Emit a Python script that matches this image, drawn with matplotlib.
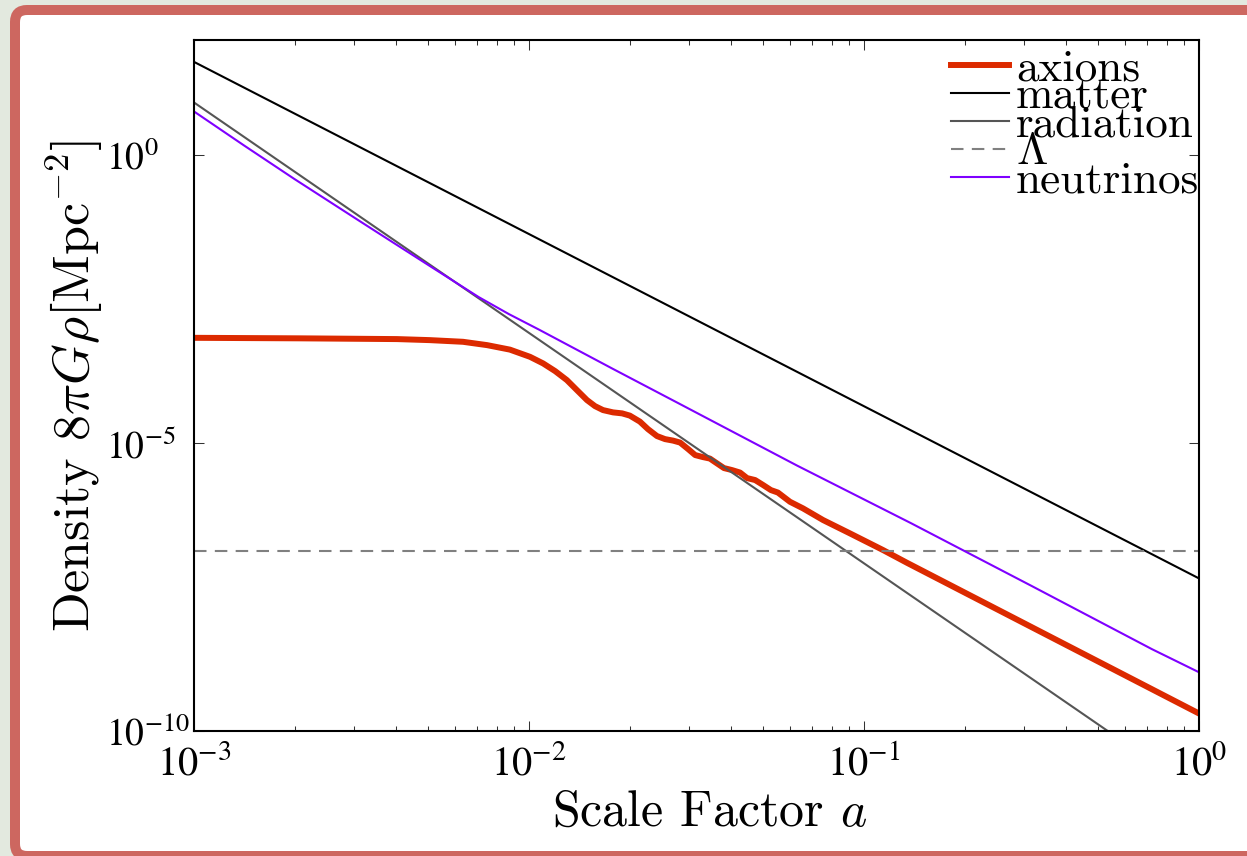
import matplotlib
matplotlib.use('Agg')
import matplotlib.pyplot as plt
import numpy as np
from matplotlib.patches import FancyBboxPatch
from matplotlib.transforms import IdentityTransform
from matplotlib.ticker import FixedLocator, NullLocator, FuncFormatter, LogLocator

# values, stored as log10(a) and log10(8 pi G rho)
axion_loga = [-3.000, -2.684, -2.394, -2.296, -2.197, -2.125, -2.057, -1.997,
              -1.958, -1.922, -1.887, -1.857, -1.827, -1.803, -1.779, -1.749,
              -1.722, -1.699, -1.669, -1.645, -1.618, -1.594, -1.570, -1.549,
              -1.525, -1.504, -1.481, -1.460, -1.439, -1.418, -1.394, -1.370,
              -1.349, -1.325, -1.301, -1.278, -1.257, -1.221, -1.182, -1.122,
              -1.042, -0.943, -0.872, 0.000]
axion_logrho = [-3.172, -3.181, -3.194, -3.212, -3.241, -3.299, -3.377, -3.502,
                -3.616, -3.750, -3.906, -4.080, -4.253, -4.358, -4.427, -4.467,
                -4.484, -4.523, -4.627, -4.757, -4.878, -4.931, -4.957, -4.991,
                -5.104, -5.208, -5.243, -5.269, -5.352, -5.434, -5.469, -5.512,
                -5.608, -5.642, -5.729, -5.816, -5.859, -6.019, -6.134, -6.337,
                -6.568, -6.858, -7.078, -9.696]

matter_loga = [-3.0, 0.0]
matter_logrho = [1.62, -7.35]

radiation_loga = [-3.0, 0.0]
radiation_logrho = [0.915, -11.09]

lambda_loga = [-3.0, 0.0]
lambda_logrho = [-6.87, -6.87]

neutrino_loga = [-3.0, -2.85, -2.7, -2.6, -2.5, -2.4, -2.3, -2.15, -2.06, -1.97,
                 -1.75, -1.55, -1.2, -0.86, -0.5, -0.14, 0.0]
neutrino_logrho = [0.759, 0.166, -0.415, -0.79, -1.165, -1.538, -1.91, -2.465,
                   -2.76, -3.03, -3.71, -4.32, -5.39, -6.39, -7.48, -8.58, -8.98]

plt.rcParams['font.family'] = ['cmr10']
plt.rcParams['mathtext.fontset'] = 'cm'
plt.rcParams['axes.formatter.use_mathtext'] = True
plt.rcParams['lines.scale_dashes'] = False


def p10(v):
    return np.power(10.0, np.asarray(v))


fig = plt.figure(figsize=(12.47, 8.56), dpi=100, facecolor='#e3e9df')

# slide frame round the plot
frame = FancyBboxPatch((15, 0), 1300, 846, boxstyle='round,pad=0,rounding_size=12',
                       transform=IdentityTransform(), facecolor='white',
                       edgecolor='#cd6760', linewidth=7.2, zorder=-1)
fig.add_artist(frame)

ax = fig.add_axes([194 / 1247, 1 - 731 / 856, (1199 - 194) / 1247, (731 - 40) / 856])

ax.plot(p10(axion_loga), p10(axion_logrho), color='#dc2a00', lw=4.3, label='axions',
        solid_joinstyle='round')
ax.plot(p10(matter_loga), p10(matter_logrho), color='black', lw=1.5, label='matter')
ax.plot(p10(radiation_loga), p10(radiation_logrho), color='#555555', lw=1.5,
        label='radiation')
ax.plot(p10(lambda_loga), p10(lambda_logrho), color='#808080', lw=1.5,
        dashes=(9, 6), label=r'$\Lambda$')
ax.plot(p10(neutrino_loga), p10(neutrino_logrho), color='#7f00ff', lw=1.5,
        label='neutrinos')

ax.set_xscale('log')
ax.set_yscale('log')
ax.set_xlim(1e-3, 1)
ax.set_ylim(1e-10, 1e2)

ax.xaxis.set_major_locator(FixedLocator([1e-3, 1e-2, 1e-1, 1]))
ax.xaxis.set_minor_locator(LogLocator(base=10, subs=np.arange(2, 10)))
ax.yaxis.set_major_locator(FixedLocator([1e-10, 1e-5, 1]))
ax.yaxis.set_minor_locator(NullLocator())
fmt = FuncFormatter(lambda v, p: r'$10^{%d}$' % round(np.log10(v)))
ax.xaxis.set_major_formatter(fmt)
ax.yaxis.set_major_formatter(fmt)

ax.tick_params(which='both', direction='in', top=True, right=True, width=0.75,
               color='#333333')
ax.tick_params(which='major', length=7.2)
ax.tick_params(which='minor', length=3.3)
ax.tick_params(axis='x', pad=10, labelsize=29)
ax.tick_params(axis='y', pad=63, labelsize=27)
plt.setp(ax.get_xticklabels(), math_fontfamily='stix')
plt.setp(ax.get_yticklabels(), math_fontfamily='stix', ha='left')

for s in ax.spines.values():
    s.set_linewidth(1.5)

ax.set_xlabel(r'Scale Factor $a$', fontsize=36, labelpad=5)
ax.xaxis.label.set_x(0.513)
ax.set_ylabel(r'Density $8\pi G\rho[\mathrm{Mpc}^{-2}]$', fontsize=37.5, labelpad=1)

ax.legend(loc='upper right', bbox_to_anchor=(1.0, 0.987), frameon=False, fontsize=32.5,
          handlelength=1.28, handletextpad=0.155, labelspacing=-0.28, borderpad=0,
          borderaxespad=0)

fig.savefig('out.png', dpi=100, facecolor=fig.get_facecolor())
